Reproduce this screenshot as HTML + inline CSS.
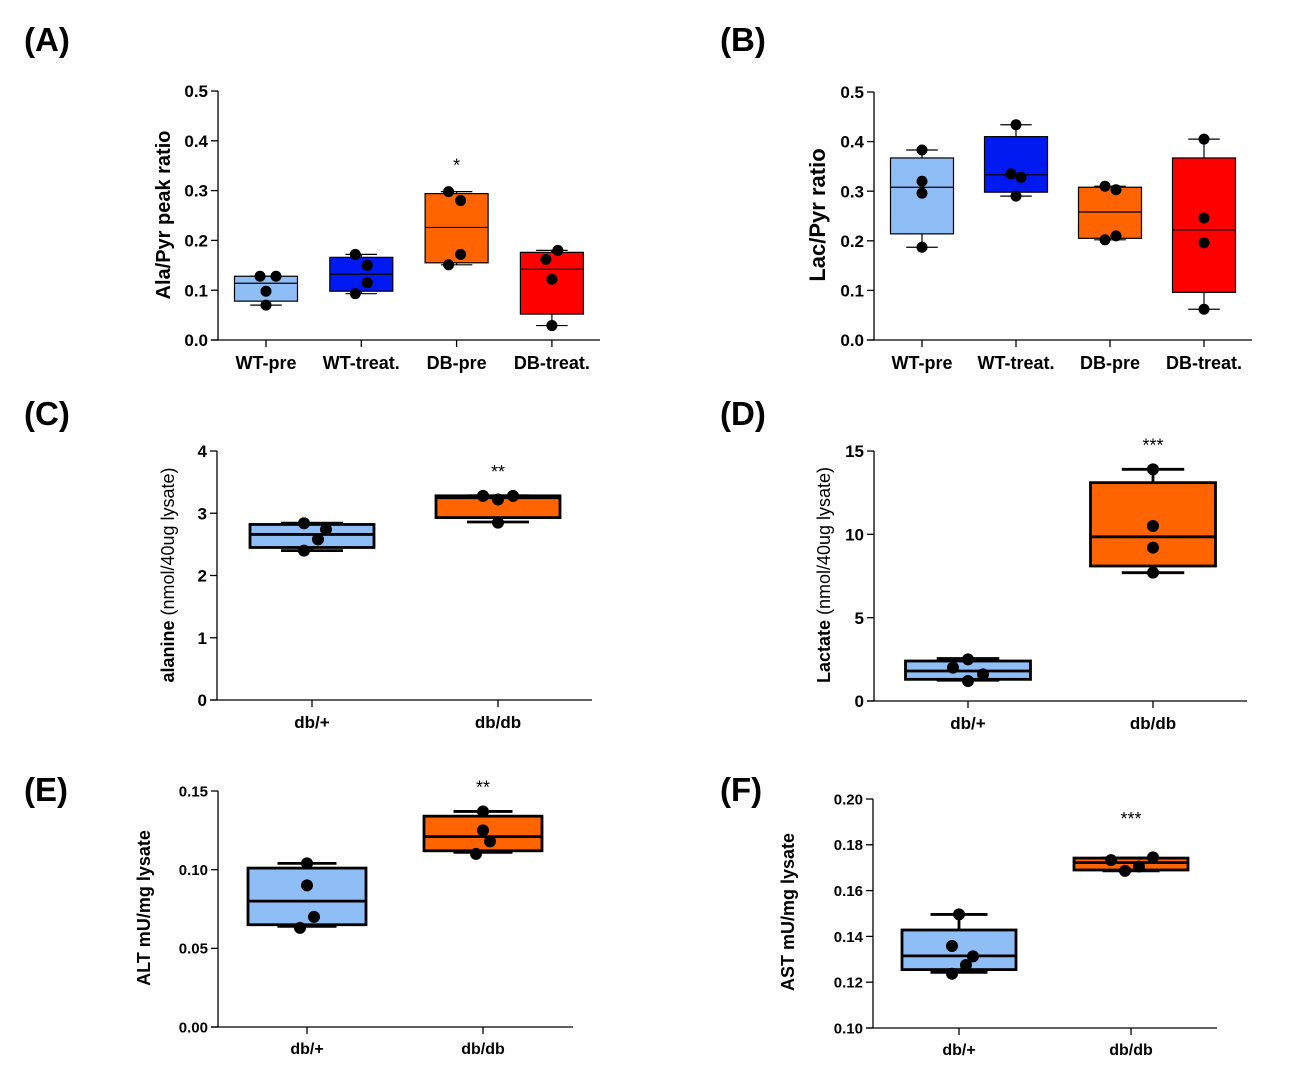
<!DOCTYPE html>
<html><head><meta charset="utf-8">
<style>
html,body{margin:0;padding:0;background:#fff;}
svg{display:block;font-family:"Liberation Sans",Arial,sans-serif;}
</style></head>
<body>
<svg id="fig" width="1311" height="1078" viewBox="0 0 1311 1078" xmlns="http://www.w3.org/2000/svg">
<text x="24" y="51" font-size="33" font-weight="bold">(A)</text>
<text x="720" y="51" font-size="33" font-weight="bold">(B)</text>
<text x="24" y="425" font-size="33" font-weight="bold">(C)</text>
<text x="720" y="425" font-size="33" font-weight="bold">(D)</text>
<text x="24" y="801" font-size="33" font-weight="bold">(E)</text>
<text x="720" y="801" font-size="33" font-weight="bold">(F)</text>
</svg>
<script>
// ---- Panel A data ----
const catsA = ["WT-pre","WT-treat.","DB-pre","DB-treat."];
const q1A = [0.078,0.098,0.155,0.052];
const medA = [0.114,0.132,0.226,0.142];
const q3A = [0.128,0.166,0.294,0.176];
const minA = [0.070,0.093,0.151,0.029];
const maxA = [0.128,0.172,0.298,0.180];
const ptsA = [[0.128,0.128,0.098,0.070],[0.172,0.150,0.115,0.093],[0.298,0.280,0.172,0.151],[0.180,0.162,0.122,0.029]];
const ticksA = ["0.0","0.1","0.2","0.3","0.4","0.5"];
const starsA = ["","","*",""];
// ---- Panel B data ----
const catsB = ["WT-pre","WT-treat.","DB-pre","DB-treat."];
const q1B = [0.214,0.298,0.205,0.096];
const medB = [0.308,0.333,0.258,0.222];
const q3B = [0.367,0.410,0.308,0.367];
const minB = [0.187,0.290,0.202,0.062];
const maxB = [0.383,0.434,0.310,0.405];
const ptsB = [[0.383,0.320,0.296,0.187],[0.434,0.335,0.328,0.290],[0.310,0.303,0.210,0.202],[0.405,0.246,0.196,0.062]];
const ticksB = ["0.0","0.1","0.2","0.3","0.4","0.5"];
const starsB = ["","","",""];
// ---- Panel C data ----
const catsC = ["db/+","db/db"];
const q1C = [2.45,2.93];
const medC = [2.66,3.25];
const q3C = [2.82,3.28];
const minC = [2.40,2.86];
const maxC = [2.84,3.28];
const ptsC = [[2.84,2.74,2.58,2.40],[3.28,3.22,3.28,2.85]];
const ticksC = ["0","1","2","3","4"];
const starsC = ["","**"];
// ---- Panel D data ----
const catsD = ["db/+","db/db"];
const q1D = [1.3,8.1];
const medD = [1.8,9.85];
const q3D = [2.4,13.1];
const minD = [1.25,7.7];
const maxD = [2.55,13.9];
const ptsD = [[2.5,2.0,1.6,1.2],[13.9,10.5,9.2,7.7]];
const ticksD = ["0","5","10","15"];
const starsD = ["","***"];
// ---- Panel E data ----
const catsE = ["db/+","db/db"];
const q1E = [0.065,0.112];
const medE = [0.080,0.121];
const q3E = [0.101,0.134];
const minE = [0.064,0.111];
const maxE = [0.104,0.137];
const ptsE = [[0.104,0.090,0.070,0.063],[0.137,0.125,0.118,0.110]];
const ticksE = ["0.00","0.05","0.10","0.15"];
const starsE = ["","**"];
// ---- Panel F data ----
const catsF = ["db/+","db/db"];
const q1F = [0.1255,0.1690];
const medF = [0.1315,0.1722];
const q3F = [0.1428,0.1742];
const minF = [0.1243,0.1686];
const maxF = [0.1496,0.1742];
const ptsF = [[0.1496,0.1358,0.1313,0.1275,0.1237],[0.1733,0.1686,0.1705,0.1745]];
const ticksF = ["0.10","0.12","0.14","0.16","0.18","0.20"];
const starsF = ["","***"];

const NS="http://www.w3.org/2000/svg";
const svg=document.getElementById('fig');
function mk(tag,attrs,parent,txt){const e=document.createElementNS(NS,tag);for(const k in attrs)e.setAttribute(k,attrs[k]);if(txt!==undefined)e.textContent=txt;(parent||svg).appendChild(e);return e;}

function panel(cfg,cats,q1,med,q3,mn,mx,pts,ticks,stars){
  const g=mk('g',{});
  
  
  const lo=parseFloat(ticks[0]),hi=parseFloat(ticks[ticks.length-1]);
  const y=v=>cfg.y0+(v-lo)/(hi-lo)*(cfg.y1-cfg.y0);
  const x=i=>cfg.cx[0]+i*(cfg.cx[1]-cfg.cx[0]);
  const sw=cfg.sw;
  const ya=mk('line',{x1:cfg.ax,x2:cfg.ax,y1:cfg.y0,y2:cfg.y1,stroke:'#000','stroke-width':1.3},g);
  
  
  const xa=mk('line',{x1:cfg.ax-7,x2:cfg.xend,y1:cfg.y0,y2:cfg.y0,stroke:'#000','stroke-width':1.3},g);
  
  
  ticks.forEach(t=>{
    const yy=y(parseFloat(t));
    mk('line',{x1:cfg.ax-7,x2:cfg.ax,y1:yy,y2:yy,stroke:'#000','stroke-width':1.3},g);
    const tl=mk('text',{x:cfg.ax-10,y:yy+cfg.tf*0.36,'font-size':cfg.tf,'font-weight':'bold','text-anchor':'end'},g,t);
    
    
  });
  cats.forEach((c,i)=>{
    const cx=x(i),hw=cfg.bw/2,cw=cfg.bw/4;
    mk('line',{x1:cx,x2:cx,y1:cfg.y0,y2:cfg.y0+7,stroke:'#000','stroke-width':1.3},g);
    const cl=mk('text',{x:cx,y:cfg.y0+cfg.lf+11,'font-size':cfg.lf,'font-weight':'bold','text-anchor':'middle'},g,c);
    
    
    mk('line',{x1:cx,x2:cx,y1:y(mx[i]),y2:y(q3[i]),stroke:'#000','stroke-width':sw},g);
    mk('line',{x1:cx,x2:cx,y1:y(mn[i]),y2:y(q1[i]),stroke:'#000','stroke-width':sw},g);
    mk('line',{x1:cx-cw,x2:cx+cw,y1:y(mx[i]),y2:y(mx[i]),stroke:'#000','stroke-width':sw},g);
    mk('line',{x1:cx-cw,x2:cx+cw,y1:y(mn[i]),y2:y(mn[i]),stroke:'#000','stroke-width':sw},g);
    const b=mk('rect',{x:cx-hw,y:y(q3[i]),width:cfg.bw,height:y(q1[i])-y(q3[i]),fill:cfg.colors[i],stroke:'#000','stroke-width':sw},g);
    
    
    mk('line',{x1:cx-hw,x2:cx+hw,y1:y(med[i]),y2:y(med[i]),stroke:'#000','stroke-width':sw},g);
    pts[i].forEach((v,j)=>{
      const off=(cfg.jit[i]||[])[j]||0;
      const p=mk('circle',{cx:cx+off,cy:y(v),r:cfg.r,fill:'#000'},g);
      
      
    });
    if(stars[i]){
      const s=mk('text',{x:cx,y:y(mx[i])-cfg.starGap,'font-size':18,'text-anchor':'middle'},g,stars[i]);
      
      
    }
  });
  const t=mk('text',{transform:`translate(${cfg.tx},${cfg.ty}) rotate(-90)`,'font-size':cfg.yf,'text-anchor':'middle'},g);
  
  
  mk('tspan',{'font-weight':'bold'},t,cfg.title[0]);
  if(cfg.title[1]) mk('tspan',{},t,cfg.title[1]);
}
const lb='#8fbdf5',db='#0019f0',or='#ff6400',rd='#ff0000';
panel({name:'panel-a',ax:218,xend:600,y0:340,y1:91,cx:[266,361.3],bw:63,sw:1.2,r:5.5,tf:17,lf:18,yf:20,tx:170,ty:215,starGap:20,
  title:['Ala/Pyr peak ratio'],colors:[lb,db,or,rd],jit:[[-6,10,0,0],[-6,6,6,-6],[-8,4,4,-8],[6,-6,0,0]]},catsA,q1A,medA,q3A,minA,maxA,ptsA,ticksA,starsA);
panel({name:'panel-b',ax:874,xend:1252,y0:340,y1:92,cx:[922,1016],bw:63,sw:1.2,r:5.5,tf:17,lf:18,yf:22,tx:825,ty:215,starGap:20,
  title:['Lac/Pyr ratio'],colors:[lb,db,or,rd],jit:[[0,0,0,0],[0,-5,5,0],[-5,6,6,-5],[0,0,0,0]]},catsB,q1B,medB,q3B,minB,maxB,ptsB,ticksB,starsB);
panel({name:'panel-c',ax:217,xend:592,y0:700,y1:451,cx:[312,498],bw:124,sw:2.8,r:6,tf:17,lf:17,yf:18,tx:174,ty:575,starGap:18,
  title:['alanine',' (nmol/40ug lysate)'],colors:[lb,or],jit:[[-8,14,6,-8],[-15,0,15,0]]},catsC,q1C,medC,q3C,minC,maxC,ptsC,ticksC,starsC);
panel({name:'panel-d',ax:874,xend:1247,y0:701,y1:451,cx:[968,1153],bw:125,sw:2.8,r:6,tf:17,lf:17,yf:18,tx:830,ty:575,starGap:18,
  title:['Lactate',' (nmol/40ug lysate)'],colors:[lb,or],jit:[[0,-15,15,0],[0,0,0,0]]},catsD,q1D,medD,q3D,minD,maxD,ptsD,ticksD,starsD);
panel({name:'panel-e',ax:218,xend:573,y0:1027,y1:791,cx:[307,483],bw:118,sw:2.8,r:6,tf:15,lf:16,yf:18,tx:150,ty:908,starGap:18,
  title:['ALT mU/mg lysate'],colors:[lb,or],jit:[[0,0,7,-7],[0,0,7,-7]]},catsE,q1E,medE,q3E,minE,maxE,ptsE,ticksE,starsE);
panel({name:'panel-f',ax:873,xend:1217,y0:1028,y1:799,cx:[959,1131],bw:114,sw:2.8,r:6,tf:15,lf:16,yf:18,tx:794,ty:912,starGap:33,
  title:['AST mU/mg lysate'],colors:[lb,or],jit:[[0,-7,14,7,-7],[-20,-6,8,22]]},catsF,q1F,medF,q3F,minF,maxF,ptsF,ticksF,starsF);
</script>
</body></html>
